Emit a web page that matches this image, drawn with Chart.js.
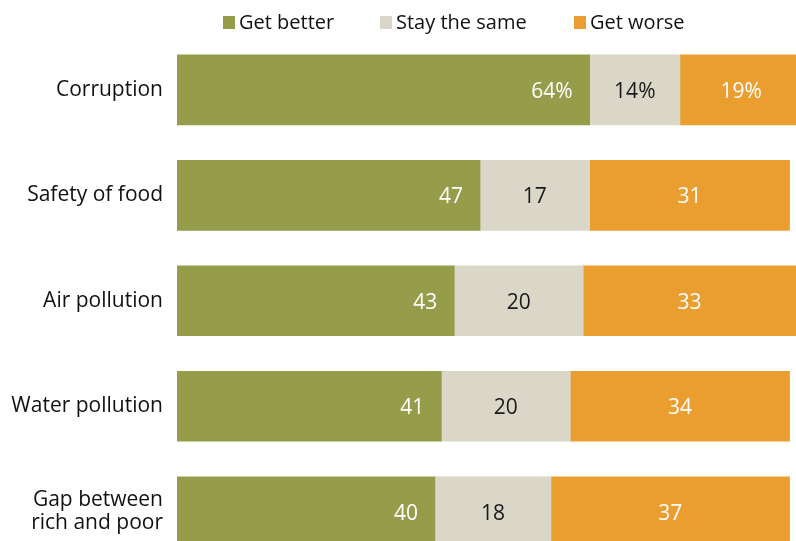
<!DOCTYPE html>
<html>
<head>
<meta charset="utf-8">
<script src="https://cdn.jsdelivr.net/npm/chart.js@4/dist/chart.umd.min.js"></script>
<style>
  html, body { margin: 0; padding: 0; background: #fff; overflow: hidden; }
  #wrap { width: 796px; height: 590px; }
</style>
</head>
<body>
<div id="wrap"><canvas id="c" width="796" height="590"></canvas></div>
<script>
// Views on whether each issue will get better, stay the same or get worse
const categories = ['Corruption', 'Safety of food', 'Air pollution', 'Water pollution', ['Gap between', 'rich and poor']];
const seriesNames = ['Get better', 'Stay the same', 'Get worse'];
const getBetter = [64, 47, 43, 41, 40];
const staySame = [14, 17, 20, 20, 18];
const getWorse = [19, 31, 33, 34, 37];

const colors = ['#959D4A', '#DAD7C8', '#EA9E2F'];
const labelColors = ['#ffffff', '#1a1a1a', '#ffffff'];
const FONT = '"Open Sans", "Liberation Sans", sans-serif';

// Custom legend row across the top
const topLegend = {
  id: 'topLegend',
  afterDraw(chart) {
    const ctx = chart.ctx;
    const xs = [223, 380, 574];
    ctx.save();
    ctx.font = '20px ' + FONT;
    ctx.textBaseline = 'middle';
    ctx.textAlign = 'left';
    chart.data.datasets.forEach((ds, i) => {
      ctx.fillStyle = ds.backgroundColor;
      ctx.fillRect(xs[i], 16, 12, 13);
      ctx.fillStyle = '#111';
      ctx.fillText(ds.label, xs[i] + 16, 23);
    });
    ctx.restore();
  }
};

// Value labels inside each bar segment
const segmentLabels = {
  id: 'segmentLabels',
  afterDatasetsDraw(chart) {
    const ctx = chart.ctx;
    ctx.save();
    ctx.font = '21px ' + FONT;
    ctx.textBaseline = 'middle';
    chart.data.datasets.forEach((ds, di) => {
      const meta = chart.getDatasetMeta(di);
      meta.data.forEach((bar, i) => {
        const v = ds.data[i];
        const txt = i === 0 ? v + '%' : String(v);
        const left = Math.min(bar.x, bar.base);
        const right = Math.max(bar.x, bar.base);
        const y = bar.y + 2;
        ctx.fillStyle = labelColors[di];
        if (di === 0) {
          ctx.textAlign = 'right';
          ctx.fillText(txt, right - 17, y);
        } else {
          ctx.textAlign = 'center';
          ctx.fillText(txt, (left + right) / 2, y);
        }
      });
    });
    ctx.restore();
  }
};

new Chart(document.getElementById('c'), {
  type: 'bar',
  data: {
    labels: categories,
    datasets: [
      { label: seriesNames[0], data: getBetter, backgroundColor: colors[0] },
      { label: seriesNames[1], data: staySame, backgroundColor: colors[1] },
      { label: seriesNames[2], data: getWorse, backgroundColor: colors[2] }
    ]
  },
  options: {
    indexAxis: 'y',
    responsive: false,
    animation: false,
    layout: { padding: { top: 37, bottom: 0, left: 0, right: 0 } },
    datasets: { bar: { barThickness: 70, borderWidth: 0 } },
    plugins: {
      legend: { display: false },
      tooltip: { enabled: false }
    },
    scales: {
      x: {
        stacked: true,
        min: 0,
        max: 96,
        display: false
      },
      y: {
        stacked: true,
        grid: { display: false, drawTicks: false },
        border: { display: false },
        ticks: {
          color: '#111',
          font: { family: FONT, size: 21, lineHeight: 1.1 },
          padding: 14
        },
        afterFit(scale) { scale.width = 177; }
      }
    }
  },
  plugins: [topLegend, segmentLabels]
});
</script>
</body>
</html>
